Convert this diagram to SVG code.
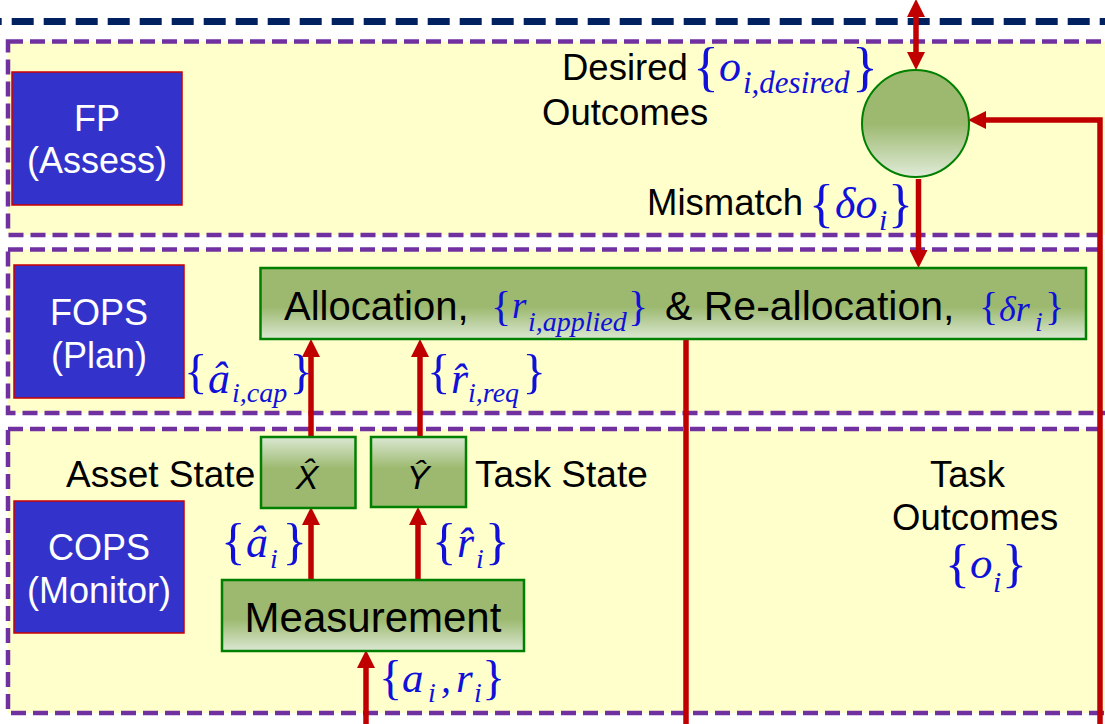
<svg xmlns="http://www.w3.org/2000/svg" width="1105" height="724" viewBox="0 0 1105 724">
<defs>
<linearGradient id="gDown" x1="0" y1="0" x2="0" y2="1">
<stop offset="0" stop-color="#9cb96f"/><stop offset="0.55" stop-color="#9cb96f"/><stop offset="1" stop-color="#dbe8d3"/>
</linearGradient>
<linearGradient id="gUp" x1="0" y1="0" x2="0" y2="1">
<stop offset="0" stop-color="#dbe8d3"/><stop offset="0.45" stop-color="#9cb96f"/><stop offset="1" stop-color="#9cb96f"/>
</linearGradient>
<linearGradient id="gCirc" x1="0" y1="0" x2="0" y2="1">
<stop offset="0" stop-color="#9cb96f"/><stop offset="0.5" stop-color="#9cb96f"/><stop offset="1" stop-color="#e0ebd9"/>
</linearGradient>
<marker id="ah" markerUnits="userSpaceOnUse" markerWidth="18" markerHeight="18" viewBox="0 0 18 18" refX="9" refY="9" orient="auto-start-reverse">
<path d="M0,0 L18,9 L0,18 z" fill="#c00000"/>
</marker>
<style>
.panel{fill:#ffffcc;stroke:#7030a0;stroke-width:4.5;stroke-dasharray:15 7}
.role{fill:#3333cc;stroke:#cc0000;stroke-width:1.5}
.roleT{font-family:"Liberation Sans",Arial,sans-serif;font-size:36px;fill:#ffffff;text-anchor:middle}
.lbl{font-family:"Liberation Sans",Arial,sans-serif;fill:#000000}
.box{stroke:#008000;stroke-width:2.5}
.m{font-family:"Liberation Serif","Times New Roman",serif;font-style:italic;fill:#1010d8}
.up{font-style:normal}
.conn{fill:none;stroke:#c00000;stroke-width:5.5}
</style>
</defs>
<rect width="1105" height="724" fill="#ffffff"/>
<line x1="0" y1="21.5" x2="1105" y2="21.5" stroke="#002060" stroke-width="7" stroke-dasharray="22 10" stroke-dashoffset="20.3"/>

<g id="panel-fp"><rect class="panel" x="8" y="41.5" width="1110" height="193.5"/></g>
<g id="panel-fops"><rect class="panel" x="8" y="249.5" width="1110" height="163.5"/></g>
<g id="panel-cops"><rect class="panel" x="8" y="429" width="1110" height="284"/></g>

<g id="fp">
<rect class="role" x="12" y="72" width="170" height="133"/>
<text class="roleT" x="97" y="131">FP</text>
<text class="roleT" x="97" y="173">(Assess)</text>
</g>
<g id="fops">
<rect class="role" x="14" y="265" width="170" height="133"/>
<text class="roleT" x="99" y="325">FOPS</text>
<text class="roleT" x="99" y="368">(Plan)</text>
</g>
<g id="cops">
<rect class="role" x="14" y="501" width="170" height="132"/>
<text class="roleT" x="99" y="560">COPS</text>
<text class="roleT" x="99" y="603">(Monitor)</text>
</g>

<g id="connectors">
<line class="conn" x1="916" y1="8" x2="916" y2="61" marker-start="url(#ah)" marker-end="url(#ah)"/>
<path class="conn" d="M1100,724 V120 H977" marker-end="url(#ah)"/>
<line class="conn" x1="918.5" y1="179" x2="918.5" y2="259" marker-end="url(#ah)"/>
<line class="conn" x1="686" y1="339" x2="686" y2="724"/>
<line class="conn" x1="311" y1="436" x2="311" y2="348" marker-end="url(#ah)"/>
<line class="conn" x1="420" y1="436" x2="420" y2="348" marker-end="url(#ah)"/>
<line class="conn" x1="311" y1="580" x2="311" y2="516" marker-end="url(#ah)"/>
<line class="conn" x1="418" y1="580" x2="418" y2="516" marker-end="url(#ah)"/>
<line class="conn" x1="366" y1="724" x2="366" y2="659" marker-end="url(#ah)"/>
</g>

<g id="comparator">
<circle cx="915.5" cy="123.5" r="53.5" fill="url(#gCirc)" stroke="#008000" stroke-width="2"/>
</g>

<g id="desired-label">
<text class="lbl" x="562" y="80" font-size="36.5">Desired</text>
<text class="lbl" x="542" y="125" font-size="36.5">Outcomes</text>
<text class="m"><tspan class="up" x="693" y="85" font-size="54">{</tspan><tspan x="719" y="81" font-size="44">o</tspan><tspan x="743" y="93" font-size="31">i,desired</tspan><tspan class="up" x="852" y="85" font-size="54">}</tspan></text>
</g>

<g id="mismatch-label">
<text class="lbl" x="647" y="215" font-size="36.5">Mismatch</text>
<text class="m"><tspan class="up" x="809" y="221" font-size="52">{</tspan><tspan x="835" y="218" font-size="44">δo</tspan><tspan x="879" y="230" font-size="30">i</tspan><tspan class="up" x="888" y="221" font-size="52">}</tspan></text>
</g>

<g id="allocation">
<rect class="box" x="260.5" y="268" width="825.5" height="71" fill="url(#gDown)"/>
<text class="lbl" x="284" y="320" font-size="40">Allocation,</text>
<text class="m"><tspan class="up" x="491" y="320" font-size="42">{</tspan><tspan x="512" y="318" font-size="37">r</tspan><tspan x="528" y="331" font-size="28">i,applied</tspan><tspan class="up" x="628" y="320" font-size="42">}</tspan></text>
<text class="lbl" x="665" y="320" font-size="41">&amp; Re-allocation,</text>
<text class="m"><tspan class="up" x="979" y="320" font-size="40">{</tspan><tspan x="999" y="321" font-size="36">δr</tspan><tspan x="1035" y="331" font-size="28">i</tspan><tspan class="up" x="1045" y="320" font-size="40">}</tspan></text>
</g>

<g id="acap-label">
<text class="m"><tspan class="up" x="184" y="388" font-size="49">{</tspan><tspan x="208" y="393" font-size="44">â</tspan><tspan x="232" y="402" font-size="28">i,cap</tspan><tspan class="up" x="289.5" y="388" font-size="49">}</tspan></text>
</g>
<g id="rreq-label">
<text class="m"><tspan class="up" x="427" y="388" font-size="49">{</tspan><tspan x="451" y="393" font-size="44">r̂</tspan><tspan x="468" y="402" font-size="28">i,req</tspan><tspan class="up" x="522.5" y="388" font-size="49">}</tspan></text>
</g>

<g id="asset-state">
<text class="lbl" x="66" y="487" font-size="37">Asset State</text>
<rect class="box" x="261" y="437" width="94.5" height="71" fill="url(#gUp)"/>
<text class="lbl" x="307" y="489" font-size="34" font-style="italic" text-anchor="middle">X̂</text>
</g>
<g id="task-state">
<rect class="box" x="371" y="437" width="95" height="70" fill="url(#gUp)"/>
<text class="lbl" x="418" y="489" font-size="34" font-style="italic" text-anchor="middle">Ŷ</text>
<text class="lbl" x="475" y="487" font-size="37">Task State</text>
</g>

<g id="ahat-label">
<text class="m"><tspan class="up" x="221" y="558" font-size="51">{</tspan><tspan x="246" y="557" font-size="44">â</tspan><tspan x="270" y="568" font-size="28">i</tspan><tspan class="up" x="282.5" y="558" font-size="51">}</tspan></text>
</g>
<g id="rhat-label">
<text class="m"><tspan class="up" x="432" y="558" font-size="51">{</tspan><tspan x="457" y="557" font-size="44">r̂</tspan><tspan x="476" y="568" font-size="28">i</tspan><tspan class="up" x="485" y="558" font-size="51">}</tspan></text>
</g>

<g id="measurement">
<rect class="box" x="222" y="580" width="302" height="71" fill="url(#gDown)"/>
<text class="lbl" x="373" y="632" font-size="42" text-anchor="middle">Measurement</text>
</g>

<g id="ar-label">
<text class="m"><tspan class="up" x="379" y="694" font-size="48">{</tspan><tspan x="402" y="692" font-size="43">a</tspan><tspan x="428" y="702" font-size="28">i</tspan><tspan x="441" y="692" font-size="40">,</tspan><tspan x="456" y="692" font-size="43">r</tspan><tspan x="474" y="702" font-size="28">i</tspan><tspan class="up" x="482" y="694" font-size="48">}</tspan></text>
</g>

<g id="task-outcomes">
<text class="lbl" x="930" y="487" font-size="36.5">Task</text>
<text class="lbl" x="892" y="530" font-size="36.5">Outcomes</text>
<text class="m"><tspan class="up" x="945" y="581" font-size="52">{</tspan><tspan x="970" y="578" font-size="45">o</tspan><tspan x="993" y="592" font-size="30">i</tspan><tspan class="up" x="1002" y="581" font-size="52">}</tspan></text>
</g>
</svg>
